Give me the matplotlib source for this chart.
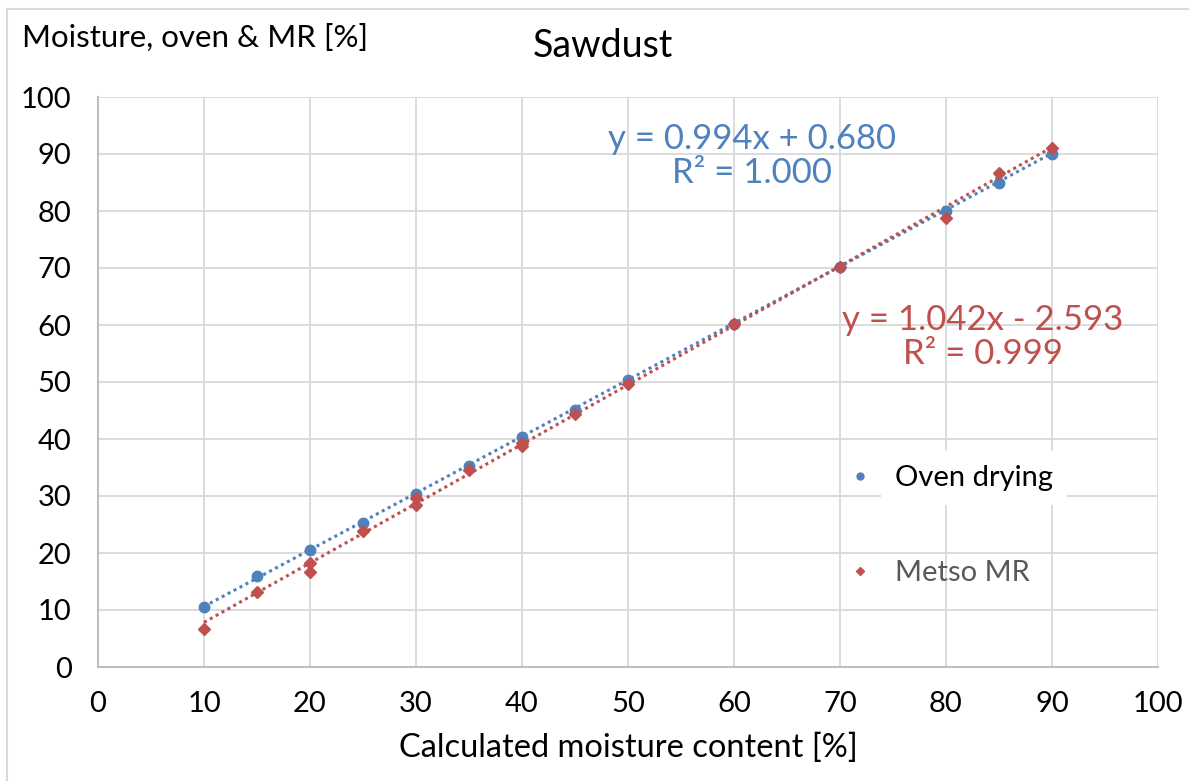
import matplotlib
matplotlib.use("Agg")
import matplotlib.pyplot as plt
from matplotlib.patches import Rectangle
from matplotlib.lines import Line2D
import numpy as np

# ---- data ----
oven_x = [10, 15, 20, 25, 30, 35, 40, 45, 50, 60, 70, 80, 85, 90]
oven_y = [10.6, 15.9, 20.5, 25.2, 30.4, 35.2, 40.3, 45.1, 50.3, 60.2, 70.1, 80.0, 85.0, 90.0]
metso_x = [10, 15, 20, 20, 25, 30, 30, 35, 40, 40, 45, 50, 60, 70, 80, 85, 90]
metso_y = [6.7, 13.2, 18.3, 16.7, 23.9, 29.6, 28.4, 34.5, 39.3, 38.7, 44.4, 49.6, 60.2, 70.1, 78.7, 86.7, 91.0]
oven_fit = (0.994, 0.680)
metso_fit = (1.042, -2.593)
fit_range = [10, 90]
ticks = [0, 10, 20, 30, 40, 50, 60, 70, 80, 90, 100]

BLUE = "#4f81bd"
RED = "#c0504d"
FONT = "Lato"

plt.rcParams['font.family'] = [FONT, 'DejaVu Sans']

fig = plt.figure(figsize=(11.89, 7.81), dpi=100)
ax = fig.add_axes([98/1189, 1-667/781, (1158-98)/1189, (667-97)/781])

# trend lines
xs = np.array(fit_range, dtype=float)
ax.plot(xs, oven_fit[0]*xs + oven_fit[1], linestyle=(0, (1, 1.2)), color=BLUE, lw=2.2, zorder=3)
ax.plot(xs, metso_fit[0]*xs + metso_fit[1], linestyle=(0, (1, 1.2)), color=RED, lw=2.2, zorder=3)

# points
ax.plot(oven_x, oven_y, 'o', color=BLUE, markersize=7.5, zorder=4, linestyle='none')
ax.plot(metso_x, metso_y, 'D', color=RED, markersize=6, zorder=5, linestyle='none')

ax.set_xlim(0, 100)
ax.set_ylim(0, 100)
ax.set_xticks(ticks)
ax.set_yticks(ticks)
ax.grid(True, color="#d9d9d9", lw=1.3)
ax.set_axisbelow(True)
for s in ['top', 'right']:
    ax.spines[s].set_visible(False)
for s in ['left', 'bottom']:
    ax.spines[s].set_color("#bfbfbf")
    ax.spines[s].set_linewidth(1.5)
ax.tick_params(length=0, labelsize=21, colors="black", pad=19)
ax.tick_params(axis='x', pad=17)

# equations
ax.text(0.617, 0.897, "y = 0.994x + 0.680\nR² = 1.000", transform=ax.transAxes,
        ha='center', va='center', color=BLUE, fontsize=25, linespacing=1.07)
ax.text(0.835, 0.579, "y = 1.042x - 2.593\nR² = 0.999", transform=ax.transAxes,
        ha='center', va='center', color=RED, fontsize=25, linespacing=1.1)

# legend
handles = [Line2D([], [], marker='o', color=BLUE, linestyle='none', markersize=5),
           Line2D([], [], marker='D', color=RED, linestyle='none', markersize=4.5)]
leg = ax.legend(handles, ["Oven drying", "Metso MR"], loc='upper left',
                bbox_to_anchor=(0.68, 0.40), frameon=False, fontsize=21,
                labelspacing=2.35, handletextpad=0.7, handlelength=1.0)
texts = leg.get_texts()
texts[0].set_color("black")
texts[0].set_bbox(dict(facecolor='white', edgecolor='none', pad=10))
texts[1].set_color("#595959")

# titles and labels
fig.text(603/1189, 1-46/781, "Sawdust", ha='center', va='center', fontsize=27)
fig.text(22/1189, 1-38/781, "Moisture, oven & MR [%]", ha='left', va='center', fontsize=22.5)
fig.text(628/1189, 1-748/781, "Calculated moisture content [%]", ha='center', va='center', fontsize=23.5)

# outer border
fig.patches.append(Rectangle((7/1189, -0.05), 1.2, 1-9/781+0.05, transform=fig.transFigure,
                             fill=False, edgecolor="#d9d9d9", lw=1.5))

fig.savefig("out.png", dpi=100)
